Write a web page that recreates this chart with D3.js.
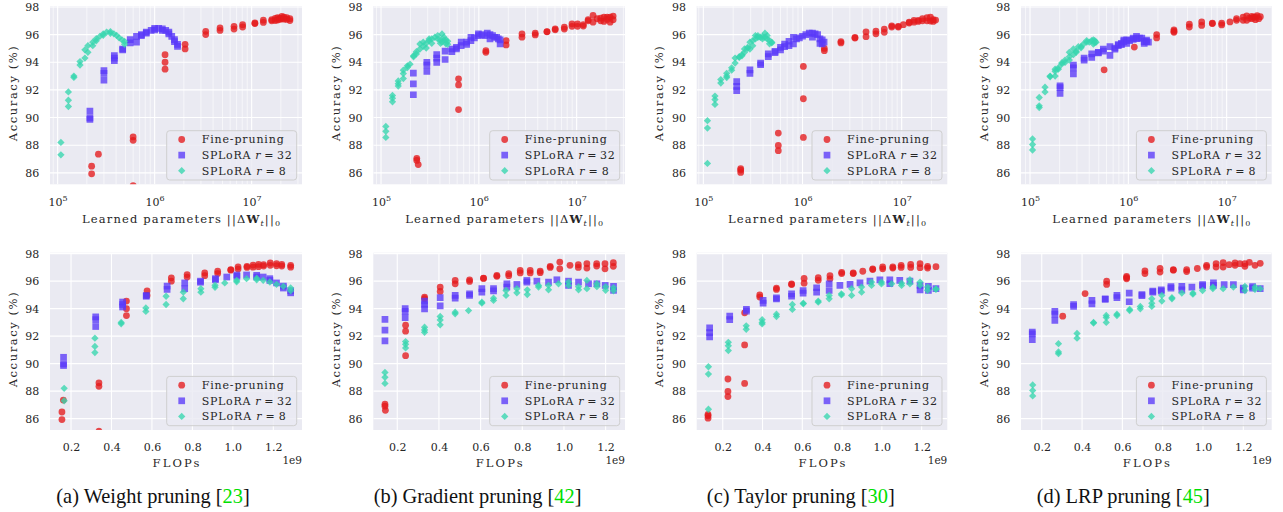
<!DOCTYPE html>
<html>
<head>
<meta charset="utf-8">
<script src="https://cdn.jsdelivr.net/npm/d3@7"></script>
<style>
  body { margin: 0; background: #fff; }
  svg { display: block; }
  text { font-family: "DejaVu Serif", serif; fill: #262626; }
</style>
</head>
<body>
<svg id="chart" width="1283" height="512"></svg>
<script>
// Each row: [learned parameters, GFLOPs, [accuracies of the runs at that pruning level]]
const weightFine = [
  [2.24e5, 0.155, [86.48, 85.93]], [2.63e5, 0.162, [87.35]],
  [6.0e5, 0.338, [88.6, 88.35, 85.08]], [1.28e6, 0.474, [94.55, 94.0, 93.5]],
  [2.06e6, 0.576, [95.3, 94.96]], [3.36e6, 0.696, [96.24, 96.0]],
  [4.72e6, 0.774, [96.48, 96.3]], [6.58e6, 0.861, [96.6, 96.4]],
  [8.07e6, 0.925, [96.72, 96.55]], [1.08e7, 0.99, [96.84, 96.8]],
  [1.32e7, 1.026, [97.04, 96.88]], [1.61e7, 1.07, [97.08, 97.0]],
  [1.75e7, 1.1, [97.17, 97.02]], [1.85e7, 1.127, [97.22, 97.05]],
  [1.95e7, 1.152, [97.2, 97.1]], [2.05e7, 1.185, [97.32, 97.15]],
  [2.15e7, 1.216, [97.27, 97.12]], [2.3e7, 1.242, [97.22, 97.1]],
  [2.48e7, 1.286, [97.15, 97.02]]
];
const weightR32 = [
  [2.15e5, 0.163, [90.46, 89.98, 89.86]], [3.0e5, 0.322, [93.4, 93.2, 92.7]],
  [3.84e5, 0.455, [94.48, 94.3, 94.12]], [4.68e5, 0.572, [94.96, 94.9]],
  [5.6e5, 0.675, [95.64, 95.4]], [6.5e5, 0.762, [95.87, 95.45]],
  [7.3e5, 0.84, [96.0, 95.92]], [8.2e5, 0.914, [96.18, 96.1]],
  [9.2e5, 0.97, [96.3]], [1.0e6, 1.02, [96.45, 96.35]],
  [1.1e6, 1.068, [96.45]], [1.2e6, 1.118, [96.42, 96.3]],
  [1.3e6, 1.15, [96.3]], [1.4e6, 1.183, [96.18, 96.05]],
  [1.5e6, 1.216, [95.87]], [1.6e6, 1.25, [95.64, 95.5]],
  [1.72e6, 1.286, [95.3, 95.15]]
];
const weightR8 = [
  [1.08e5, 0.166, [88.2, 87.3]], [1.29e5, 0.318, [91.85, 91.25, 90.8]],
  [1.47e5, 0.448, [93.0, 92.9]], [1.7e5, 0.57, [94.05, 93.8]],
  [1.91e5, 0.67, [94.9, 94.3]], [2.05e5, 0.755, [95.2, 94.72]],
  [2.3e5, 0.842, [95.45, 95.2]], [2.5e5, 0.912, [95.7, 95.55]],
  [2.72e5, 0.96, [95.87]], [2.95e5, 1.019, [96.06, 95.95]],
  [3.2e5, 1.068, [96.18]], [3.5e5, 1.118, [96.22, 96.1]],
  [3.8e5, 1.15, [96.06]], [4.05e5, 1.183, [95.94]],
  [4.3e5, 1.216, [95.77]], [4.6e5, 1.25, [95.62]],
  [4.9e5, 1.286, [95.5, 95.3]]
];

const gradFine = [
  [2.32e5, 0.141, [87.05, 86.9]], [2.4e5, 0.143, [86.6]],
  [6.2e5, 0.24, [92.8, 92.36, 90.58]], [1.18e6, 0.331, [94.84, 94.72]],
  [1.9e6, 0.406, [95.57, 95.25]], [2.76e6, 0.478, [96.05, 95.81]],
  [3.77e6, 0.547, [96.1, 95.98]], [4.97e6, 0.614, [96.22, 96.2]],
  [6.03e6, 0.678, [96.42, 96.35]], [7.48e6, 0.735, [96.54, 96.4]],
  [8.96e6, 0.79, [96.78, 96.6]], [1.02e7, 0.838, [96.78, 96.6]],
  [1.17e7, 0.886, [96.73, 96.62]], [1.31e7, 0.934, [97.08, 97.0]],
  [1.47e7, 0.98, [97.39, 96.9]], [1.62e7, 1.029, [97.15]],
  [1.76e7, 1.069, [97.2, 97.0]], [1.9e7, 1.11, [97.27, 96.95]],
  [2.05e7, 1.157, [97.27, 97.1]], [2.2e7, 1.197, [97.27, 96.9]],
  [2.36e7, 1.237, [97.34, 97.08]]
];
const gradR32 = [
  [2.14e5, 0.141, [93.22, 92.44, 91.65]], [2.94e5, 0.238, [94.0, 93.8, 93.34]],
  [3.71e5, 0.331, [94.55, 94.3, 93.99]], [4.52e5, 0.406, [94.8, 94.2]],
  [5.3e5, 0.478, [94.96, 94.77]], [5.9e5, 0.547, [95.08, 94.97]],
  [6.6e5, 0.606, [95.45, 95.2]], [7.5e5, 0.662, [95.45, 95.3]],
  [8.3e5, 0.726, [95.81, 95.57]], [9.0e5, 0.774, [95.76]],
  [9.9e5, 0.822, [96.05, 95.93]], [1.08e6, 0.87, [96.0]],
  [1.16e6, 0.926, [95.93]], [1.22e6, 0.966, [96.1]],
  [1.3e6, 1.022, [96.0, 95.69]], [1.38e6, 1.07, [95.93]],
  [1.45e6, 1.118, [95.81]], [1.52e6, 1.158, [95.81]],
  [1.58e6, 1.198, [95.69]], [1.65e6, 1.238, [95.62, 95.33]]
];
const gradR8 = [
  [1.12e5, 0.141, [89.36, 89.0, 88.56]], [1.31e5, 0.24, [91.6, 91.4, 91.14]],
  [1.5e5, 0.331, [92.65, 92.45, 92.28]], [1.69e5, 0.406, [93.43, 93.18, 92.82]],
  [1.86e5, 0.478, [93.74, 93.62]], [1.98e5, 0.542, [93.86]],
  [2.15e5, 0.606, [94.47, 94.4]], [2.3e5, 0.662, [94.76, 94.6]],
  [2.5e5, 0.722, [95.32, 94.96]], [2.7e5, 0.774, [95.45, 95.15]],
  [2.9e5, 0.824, [95.37, 95.03]], [3.1e5, 0.878, [95.69, 95.57]],
  [3.3e5, 0.926, [95.69, 95.37]], [3.55e5, 0.974, [95.81]],
  [3.8e5, 1.022, [95.93, 95.69]], [4.05e5, 1.07, [95.6, 95.37]],
  [4.2e5, 1.11, [96.05, 95.45]], [4.4e5, 1.158, [95.81, 95.6]],
  [4.6e5, 1.2, [95.6, 95.33]], [4.8e5, 1.238, [95.52, 95.3]]
];

const taylorFine = [
  [2.38e5, 0.126, [86.3, 86.2, 86.03]], [5.7e5, 0.226, [88.88, 87.98, 87.6]],
  [1.02e6, 0.31, [93.7, 91.36, 88.56]], [1.66e6, 0.386, [95.0, 94.84]],
  [2.44e6, 0.47, [95.5, 95.4]], [3.38e6, 0.546, [95.8, 95.75]],
  [4.37e6, 0.609, [96.2, 95.85]], [5.5e6, 0.68, [96.25, 96.06]],
  [6.68e6, 0.739, [96.4, 96.17]], [7.94e6, 0.798, [96.64, 96.55]],
  [9.25e6, 0.856, [96.6, 96.55]], [1.04e7, 0.904, [96.72]],
  [1.19e7, 0.954, [96.9, 96.84]], [1.33e7, 1.004, [97.03, 96.9]],
  [1.47e7, 1.055, [97.03, 96.95]], [1.62e7, 1.097, [97.15, 97.0]],
  [1.8e7, 1.145, [97.22, 97.0]], [1.95e7, 1.192, [97.27, 96.98]],
  [2.08e7, 1.23, [97.08, 96.95]], [2.2e7, 1.272, [97.05]]
];
const taylorR32 = [
  [2.17e5, 0.134, [92.6, 92.25, 91.95]], [2.95e5, 0.235, [93.45, 93.2]],
  [3.78e5, 0.319, [93.94, 93.82]], [4.52e5, 0.403, [94.6, 94.4]],
  [5.28e5, 0.47, [94.78, 94.7]], [6.0e5, 0.546, [95.08, 94.9]],
  [6.6e5, 0.604, [95.32, 95.13]], [7.3e5, 0.672, [95.52, 95.2]],
  [8.1e5, 0.735, [95.81, 95.32]], [8.7e5, 0.789, [95.69]],
  [9.3e5, 0.84, [95.76]], [1.0e6, 0.89, [95.88]],
  [1.08e6, 0.94, [96.0]], [1.17e6, 0.99, [96.1]],
  [1.26e6, 1.04, [96.1, 95.81]], [1.34e6, 1.09, [96.05]],
  [1.42e6, 1.141, [96.0]], [1.5e6, 1.192, [95.69, 95.37]],
  [1.58e6, 1.234, [95.62, 95.33]], [1.65e6, 1.272, [95.45]]
];
const taylorR8 = [
  [1.1e5, 0.128, [89.77, 89.24, 86.68]], [1.31e5, 0.228, [91.55, 91.3, 90.95]],
  [1.5e5, 0.318, [92.75, 92.5]], [1.72e5, 0.398, [93.2, 93.0, 92.89]],
  [1.93e5, 0.47, [93.6, 93.43]], [2.09e5, 0.55, [94.3, 93.94]],
  [2.3e5, 0.605, [94.4, 94.35]], [2.45e5, 0.68, [94.55, 94.47]],
  [2.6e5, 0.735, [94.96, 94.72]], [2.8e5, 0.797, [95.08, 95.0]],
  [2.95e5, 0.848, [95.45, 94.96]], [3.15e5, 0.898, [95.57, 95.2]],
  [3.35e5, 0.948, [95.93, 95.69]], [3.55e5, 0.998, [95.93, 95.8]],
  [3.75e5, 1.049, [95.81]], [3.95e5, 1.099, [95.85, 95.69]],
  [4.18e5, 1.141, [96.1, 95.81]], [4.4e5, 1.192, [95.93, 95.69]],
  [4.65e5, 1.23, [95.57, 95.33]], [4.9e5, 1.272, [95.45, 95.4]]
];

const lrpFine = [
  [5.67e5, 0.304, [93.45]], [1.15e6, 0.415, [95.1]],
  [1.94e6, 0.522, [96.0, 95.76]], [2.91e6, 0.621, [96.35, 96.25, 96.17]],
  [4.17e6, 0.712, [96.75, 96.55]], [5.57e6, 0.787, [96.92, 96.66]],
  [7.15e6, 0.853, [96.83, 96.8]], [8.9e6, 0.919, [96.83, 96.7]],
  [1.08e7, 0.972, [96.92]], [1.26e7, 1.018, [97.15, 97.03]],
  [1.47e7, 1.065, [97.27, 97.03]], [1.6e7, 1.1, [97.35, 97.03]],
  [1.7e7, 1.13, [97.2]], [1.8e7, 1.159, [97.32, 97.15]],
  [1.88e7, 1.183, [97.27]], [1.96e7, 1.208, [97.27, 97.08]],
  [2.04e7, 1.23, [97.37]], [2.12e7, 1.258, [97.15]],
  [2.2e7, 1.284, [97.3]]
];
const lrpR32 = [
  [2.02e5, 0.153, [92.3, 92.16, 91.75]], [2.76e5, 0.265, [93.8, 93.6, 93.15]],
  [3.55e5, 0.358, [94.3, 94.16]], [4.24e5, 0.449, [94.6, 94.35]],
  [4.95e5, 0.515, [94.72, 94.68]], [5.57e5, 0.573, [94.96, 94.8]],
  [6.5e5, 0.634, [95.13, 94.5]], [7.3e5, 0.697, [95.03, 94.95]],
  [7.9e5, 0.751, [95.27, 95.2]], [8.5e5, 0.793, [95.37, 95.27]],
  [9.0e5, 0.841, [95.6, 95.5]], [9.6e5, 0.895, [95.62, 95.37]],
  [1.03e6, 0.945, [95.57]], [1.12e6, 0.998, [95.75, 95.65]],
  [1.21e6, 1.052, [95.87, 95.7]], [1.3e6, 1.105, [95.75]],
  [1.37e6, 1.151, [95.75]], [1.45e6, 1.2, [95.5, 95.37]],
  [1.53e6, 1.246, [95.6, 95.5]], [1.6e6, 1.284, [95.45]]
];
const lrpR8 = [
  [1.06e5, 0.155, [88.45, 88.05, 87.65]], [1.24e5, 0.283, [91.45, 90.85, 90.72]],
  [1.42e5, 0.375, [92.2, 91.85]], [1.6e5, 0.457, [93.0, 92.95]],
  [1.8e5, 0.52, [93.5, 93.35, 93.0]], [1.94e5, 0.573, [93.6, 93.5]],
  [2.1e5, 0.636, [93.95, 93.86]], [2.27e5, 0.689, [94.16, 93.99]],
  [2.51e5, 0.746, [94.72, 94.4, 94.16]], [2.76e5, 0.796, [94.96, 94.55]],
  [2.95e5, 0.846, [94.8, 94.72]], [3.1e5, 0.895, [95.13]],
  [3.3e5, 0.95, [95.13, 95.05]], [3.5e5, 0.998, [95.32]],
  [3.77e5, 1.049, [95.57, 95.45]], [4.0e5, 1.1, [95.45]],
  [4.24e5, 1.151, [95.57]], [4.4e5, 1.208, [95.62, 95.32]],
  [4.55e5, 1.258, [95.57, 95.4]], [4.7e5, 1.284, [95.45]]
];

const captionTitles = ["(a) Weight pruning [", "(b) Gradient pruning [", "(c) Taylor pruning [", "(d) LRP pruning ["];
const captionRefs = ["23", "42", "30", "45"];
const seriesLabels = ["Fine-pruning", "SPLoRA", "SPLoRA"];
const seriesRanks = [null, "32", "8"];
const yTicks = [86, 88, 90, 92, 94, 96, 98];
const paramTicks = [1e5, 1e6, 1e7];
const flopTicks = [0.2, 0.4, 0.6, 0.8, 1.0, 1.2];

const methodSeries = [
  [weightFine, weightR32, weightR8],
  [gradFine, gradR32, gradR8],
  [taylorFine, taylorR32, taylorR8],
  [lrpFine, lrpR32, lrpR8]
];

// layout
const cols = [[50, 302], [373.3, 625], [696.7, 947.3], [1021, 1271.7]];
const rowsY = [[6, 184.3], [252.7, 430]];
const paramExp = [[4.921, 7.519], [4.921, 7.494], [4.933, 7.46], [4.908, 7.458]];
const flopDom = [[0.096, 1.342], [0.085, 1.293], [0.069, 1.329], [0.097, 1.341]];
const captionX = [153, 477.6, 800.8, 1123.3];
const yDomain = [85.17, 98.07];
const legendTextWidths = [82, 90, 84];

const styles = [
  { color: "#e41a1c", symbol: d3.symbolCircle, size: 36 },
  { color: "#5a3af8", symbol: d3.symbolSquare, size: 45 },
  { color: "#36d6ae", symbol: d3.symbolDiamond2, size: 34 }
];
const markerOpacity = 0.78;
const bg = "#eaeaf2";

const svg = d3.select("#chart");
svg.append("rect").attr("width", 1283).attr("height", 512).attr("fill", "#fff");
const defs = svg.append("defs");

function flatten(rows) {
  return rows.flatMap(([p, f, accs]) => accs.map(a => ({ p, f, a })));
}

function drawPanel(ci, ri) {
  const [x0, x1] = cols[ci];
  const [y0, y1] = rowsY[ri];
  const isParams = ri === 0;
  const x = isParams
    ? d3.scaleLog().domain(paramExp[ci].map(e => Math.pow(10, e))).range([x0, x1])
    : d3.scaleLinear().domain(flopDom[ci]).range([x0, x1]);
  const y = d3.scaleLinear().domain(yDomain).range([y1, y0]);

  const g = svg.append("g");
  const clipId = `clip-${ci}-${ri}`;
  defs.append("clipPath").attr("id", clipId)
    .append("rect").attr("x", x0).attr("y", y0).attr("width", x1 - x0).attr("height", y1 - y0);

  g.append("rect").attr("x", x0).attr("y", y0).attr("width", x1 - x0).attr("height", y1 - y0).attr("fill", bg);

  // grid
  const grid = g.append("g").attr("clip-path", `url(#${clipId})`);
  if (isParams) {
    const [lo, hi] = x.domain();
    const minor = [];
    for (let e = 4; e <= 7; e++) for (let m = 2; m <= 9; m++) {
      const v = m * Math.pow(10, e);
      if (v > lo && v < hi) minor.push(v);
    }
    grid.selectAll(".minor").data(minor).join("line")
      .attr("x1", d => x(d)).attr("x2", d => x(d)).attr("y1", y0).attr("y2", y1)
      .attr("stroke", "#fff").attr("stroke-width", 0.6);
  }
  const xt = isParams ? paramTicks : flopTicks;
  grid.selectAll(".vx").data(xt).join("line")
    .attr("x1", d => x(d)).attr("x2", d => x(d)).attr("y1", y0).attr("y2", y1)
    .attr("stroke", "#fff").attr("stroke-width", 1.1);
  grid.selectAll(".hy").data(yTicks).join("line")
    .attr("x1", x0).attr("x2", x1).attr("y1", d => y(d)).attr("y2", d => y(d))
    .attr("stroke", "#fff").attr("stroke-width", 1.1);

  // y axis
  const ya = g.append("g").attr("transform", `translate(${x0},0)`)
    .call(d3.axisLeft(y).tickValues(yTicks).tickSize(0).tickPadding(10.7).tickFormat(d3.format("d")));
  ya.select(".domain").remove();
  ya.selectAll("text").attr("font-family", "DejaVu Serif").attr("font-size", 11).attr("fill", "#262626");

  // x axis
  const xa = g.append("g").attr("transform", `translate(0,${y1})`)
    .call(d3.axisBottom(x).tickValues(xt).tickSize(0).tickPadding(isParams ? 14 : 13.5)
      .tickFormat(isParams ? () => "" : d3.format(".1f")));
  xa.select(".domain").remove();
  xa.selectAll("text").attr("font-family", "DejaVu Serif").attr("font-size", 11).attr("fill", "#262626");
  if (isParams) {
    xa.selectAll(".tick text").each(function (d) {
      const t = d3.select(this);
      t.text(null);
      t.append("tspan").text("10");
      t.append("tspan").attr("font-size", 8).attr("dy", -5).text(String(Math.round(Math.log10(d))));
    });
  }

  // points
  const pts = g.append("g").attr("clip-path", `url(#${clipId})`);
  methodSeries[ci].forEach((rows, si) => {
    const st = styles[si];
    const sym = d3.symbol(st.symbol, st.size);
    pts.selectAll(null).data(flatten(rows)).join("path")
      .attr("d", sym)
      .attr("transform", d => `translate(${x(isParams ? d.p : d.f)},${y(d.a)})`)
      .attr("fill", st.color).attr("fill-opacity", markerOpacity);
  });

  // axis labels
  const cx = (x0 + x1) / 2;
  if (isParams) {
    const lab = g.append("text").attr("x", cx + 5).attr("y", y1 + 38.7).attr("text-anchor", "middle")
      .attr("font-size", 11.5).attr("textLength", 198).attr("lengthAdjust", "spacing");
    lab.append("tspan").text("Learned parameters ||Δ");
    lab.append("tspan").attr("font-weight", "bold").text("W");
    lab.append("tspan").attr("font-style", "italic").attr("font-size", 8).attr("dy", 3).text("t");
    lab.append("tspan").attr("dy", -3).text("||");
    lab.append("tspan").attr("font-size", 8).attr("dy", 3).text("0");
  } else {
    g.append("text").attr("x", cx).attr("y", y1 + 36.5).attr("text-anchor", "middle")
      .attr("font-size", 11.5).attr("textLength", 47).attr("lengthAdjust", "spacing").text("FLOPs");
    g.append("text").attr("x", x1).attr("y", y1 + 33.5).attr("text-anchor", "end")
      .attr("font-size", 10.5).text("1e9");
  }
  g.append("text")
    .attr("transform", `translate(${x0 - 37.5},${(y0 + y1) / 2 - 1.5}) rotate(-90)`)
    .attr("text-anchor", "middle").attr("dominant-baseline", "central")
    .attr("font-size", 11.5).attr("textLength", 95).attr("lengthAdjust", "spacing").text("Accuracy (%)");

  // legend
  const lw = 130, lh = 49.3;
  const lg = g.append("g").attr("transform", `translate(${x1 - 5.3 - lw},${y1 - 4.3 - lh})`);
  lg.append("rect").attr("width", lw).attr("height", lh).attr("rx", 3)
    .attr("fill", bg).attr("fill-opacity", 0.8).attr("stroke", "#cfcfcf").attr("stroke-width", 1);
  styles.forEach((st, si) => {
    const ly = 8.8 + si * 15.6;
    lg.append("path").attr("d", d3.symbol(st.symbol, st.size)).attr("transform", `translate(15,${ly})`)
      .attr("fill", st.color).attr("fill-opacity", markerOpacity);
    const t = lg.append("text").attr("x", 35).attr("y", ly).attr("dominant-baseline", "central")
      .attr("font-size", 11).attr("textLength", legendTextWidths[si]).attr("lengthAdjust", "spacing");
    t.append("tspan").text(seriesLabels[si]);
    if (seriesRanks[si]) {
      t.append("tspan").text(" ");
      t.append("tspan").attr("font-style", "italic").text("r");
      t.append("tspan").text("\u2009=\u2009" + seriesRanks[si]);
    }
  });
}

for (let ci = 0; ci < 4; ci++) {
  drawPanel(ci, 0);
  drawPanel(ci, 1);
  const cap = svg.append("text").attr("x", captionX[ci]).attr("y", 502.5).attr("text-anchor", "middle")
    .style("font-family", "'Liberation Serif', 'Times New Roman', serif").attr("font-size", 20.4).style("fill", "#111");
  cap.append("tspan").text(captionTitles[ci]);
  cap.append("tspan").style("fill", "#00e000").text(captionRefs[ci]);
  cap.append("tspan").text("]");
}
</script>
</body>
</html>
